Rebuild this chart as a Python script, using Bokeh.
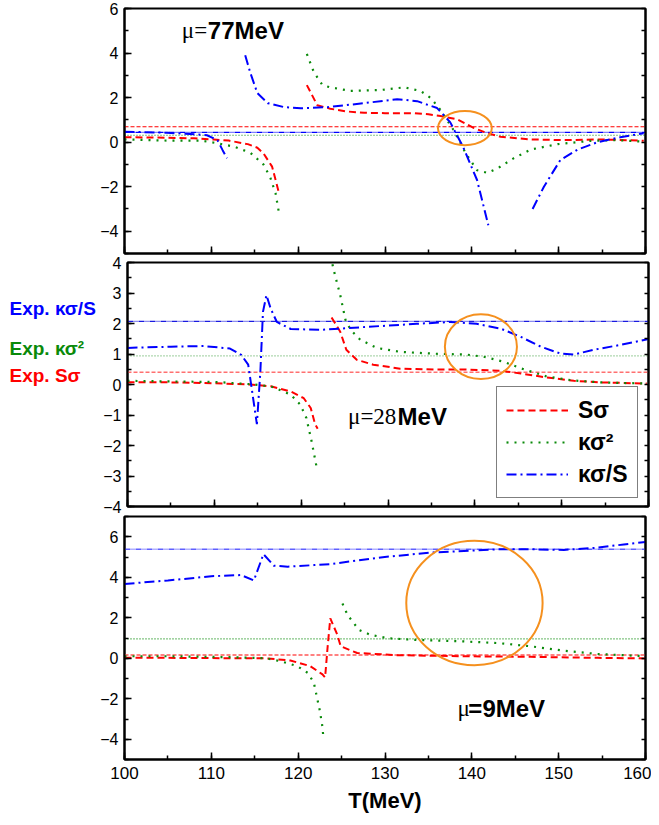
from bokeh.plotting import figure
from bokeh.layouts import column, row
from bokeh.models import (Range1d, LinearAxis, SingleIntervalTicker, Span, Label,
                          Legend, LegendItem, CustomJSTickFormatter)
from bokeh.embed import file_html
from bokeh.resources import INLINE

# ---------------- data ----------------
# Exp. values (mu = 77, 28, 9 MeV)
exp_S = [0.69, 0.40, 0.16]
exp_K = [0.31, 0.94, 0.96]
exp_KS = [0.44, 2.07, 5.38]

# mu = 77 MeV
T77_S1 = [100, 105, 108, 110.3, 112, 114.2, 115.3, 116, 117, 117.8]
S77_1 = [0.22, 0.2, 0.17, 0.12, 0.07, -0.09, -0.25, -0.5, -1.1, -2.3]
T77_S2 = [121, 122.2, 123.7, 125.5, 127.6, 130, 133.3, 135, 136.4, 138.3, 140.2, 141.8,
          143.3, 146.8, 150.6, 154.5, 157, 159.8]
S77_2 = [2.56, 1.66, 1.5, 1.38, 1.32, 1.3, 1.3, 1.25, 1.17, 1.03, 0.64, 0.4,
         0.24, 0.12, 0.09, 0.12, 0.1, 0.06]
T77_K1 = [100, 105, 108.8, 110.7, 112.6, 114.5, 116, 116.8, 117.4, 117.8]
K77_1 = [0.12, 0.07, 0.07, -0.05, -0.2, -0.48, -1.0, -1.6, -2.3, -3.2]
T77_K2 = [121, 121.8, 122.8, 123.7, 126, 129.5, 132.2, 134.1, 135.3, 136.4, 137.9, 139.3,
          140.6, 141.8, 143, 144.8, 146.8, 149.9, 153.7, 156.9, 159.8]
K77_2 = [3.96, 3.15, 2.56, 2.46, 2.3, 2.34, 2.46, 2.3, 1.97, 1.44, 0.54, -0.5,
         -1.26, -1.38, -1.17, -0.73, -0.33, -0.09, 0.06, 0.09, 0.02]
T77_KS1 = [100, 104.9, 107, 109.5, 110.7, 111.3, 111.8]
KS77_1 = [0.47, 0.42, 0.38, 0.31, 0.09, -0.36, -0.72]
T77_KS2 = [113.9, 114.5, 115.3, 116.5, 118.4, 120.3, 123.4, 127.6, 131.4, 133.7, 136,
           137.5, 139, 140.6, 141.9]
KS77_2 = [3.9, 3.1, 2.2, 1.75, 1.57, 1.52, 1.57, 1.75, 1.93, 1.84, 1.53,
          0.9, -0.22, -1.7, -3.73]
T77_KS3 = [147, 148.3, 150.2, 152.2, 154.5, 157.1, 159.8]
KS77_3 = [-3.0, -2.0, -0.8, -0.33, 0.0, 0.22, 0.4]

# mu = 28 MeV
T28_S1 = [100, 105, 108.8, 114.2, 116.5, 118.8, 120.3, 121.1, 121.6, 121.9]
S28_1 = [0.07, 0.07, 0.05, 0.0, -0.06, -0.23, -0.45, -0.77, -1.3, -1.45]
T28_S2 = [123.5, 124.5, 125.2, 126.4, 128.3, 131.4, 135.3, 139.1, 143, 145.3, 148.3,
          151.4, 154.5, 159.8]
S28_2 = [2.2, 1.73, 1.14, 0.81, 0.65, 0.52, 0.49, 0.49, 0.45, 0.36, 0.23,
         0.12, 0.07, 0.03]
T28_K1 = [100, 105, 110.3, 114.2, 116.5, 118.8, 119.9, 120.6, 121.2, 121.8]
K28_1 = [0.12, 0.1, 0.08, 0.01, -0.06, -0.33, -0.66, -1.1, -1.86, -2.74]
T28_K2 = [123.6, 123.9, 124.5, 125.1, 125.7, 126.8, 128.7, 131.4, 135.3, 139.1, 141,
          143.3, 145.3, 148.3, 151.4, 154.5, 159.8]
K28_2 = [3.94, 3.58, 2.93, 2.12, 1.79, 1.47, 1.2, 1.07, 1.01, 0.98, 0.91,
         0.75, 0.53, 0.26, 0.13, 0.07, 0.03]
T28_KS = [100, 105, 108.8, 111.8, 113.1, 113.9, 114.3, 114.9, 115.3, 115.6, 116, 116.5,
          117.2, 118.8, 122.2, 127.6, 133.3, 137.2, 140.2, 143, 145.3, 147.6, 149.9,
          151.4, 153.7, 156.8, 160]
KS28 = [1.2, 1.24, 1.26, 1.18, 0.97, 0.65, -0.12, -1.3, 0.42, 2.38, 2.93, 2.48,
        2.05, 1.82, 1.79, 1.89, 1.99, 2.05, 1.99, 1.83, 1.56, 1.24, 1.01,
        0.98, 1.14, 1.3, 1.49]

# mu = 9 MeV
T9_S = [100, 105, 112.6, 116.3, 119.1, 121.4, 122.8, 123.1, 123.4, 123.7, 124.5, 124.9,
        126.8, 131.4, 139.1, 146.8, 154.5, 160]
S9 = [0.02, 0.02, 0.0, 0.0, -0.11, -0.39, -0.8, -0.95, 0.6, 1.97, 1.17, 0.59,
      0.26, 0.15, 0.1, 0.07, 0.02, -0.01]
T9_K1 = [100, 105, 112.6, 116.3, 118, 119.9, 121.1, 121.8, 122.2, 122.5, 122.8, 122.9]
K9_1 = [0.1, 0.1, 0.05, 0.0, -0.15, -0.39, -0.72, -1.2, -2.0, -2.6, -3.4, -3.9]
T9_K2 = [125.1, 125.7, 127, 128.3, 130.3, 133.3, 139.1, 143, 146.8, 150.6, 154.5, 160]
K9_2 = [2.7, 2.13, 1.4, 1.16, 0.99, 0.91, 0.83, 0.75, 0.59, 0.37, 0.21, 0.1]
T9_KS = [100, 105, 110, 113.4, 114.9, 116, 117.2, 118.8, 121.8, 123.7, 129.5, 135.3,
         139.1, 143, 146.8, 150.6, 154.5, 157.5, 160]
KS9 = [3.67, 3.84, 4.05, 4.11, 3.84, 5.14, 4.57, 4.52, 4.6, 4.65, 4.98, 5.22,
       5.3, 5.38, 5.38, 5.35, 5.46, 5.62, 5.74]

# highlighted regions (ellipses): centre T, centre value, width (T), height (value)
ell_T = [139.2, 140.7, 140.3]
ell_V = [0.63, 1.24, 2.73]
ell_W = [6.2, 8.3, 15.7]
ell_H = [1.53, 2.12, 6.15]

# ---------------- styling ----------------
RED = "#FF0000"
GREEN = "#0A8A0A"
BLUE = "#0000FF"
ORANGE = "#F5901E"
SANS = "Liberation Sans"
SERIF = "Liberation Serif"
BLANK = CustomJSTickFormatter(code="return ''")

xr = Range1d(100, 160)


def make_fig(y0, y1, interval, frame_h, bt, bb, bl, show_x):
    p = figure(frame_width=521, frame_height=frame_h, x_range=xr,
               y_range=Range1d(y0, y1), output_backend="svg", toolbar_location=None,
               min_border_left=bl, min_border_right=6, min_border_top=bt,
               min_border_bottom=bb)
    p.grid.visible = False
    p.outline_line_color = "black"
    p.outline_line_width = 2
    p.outline_line_alpha = 1
    ax = p.xaxis[0]
    ax.ticker = SingleIntervalTicker(interval=10, num_minor_ticks=2)
    ay = p.yaxis[0]
    ay.ticker = SingleIntervalTicker(interval=interval, num_minor_ticks=2)
    for a in (ax, ay):
        a.axis_line_width = 2
        a.axis_line_color = "black"
        a.major_tick_in = 7
        a.major_tick_out = 0
        a.minor_tick_in = 4
        a.minor_tick_out = 0
        a.major_tick_line_width = 1.5
        a.minor_tick_line_width = 1.5
        a.major_tick_line_color = "black"
        a.minor_tick_line_color = "black"
        a.major_label_text_font = SANS
        a.major_label_text_color = "black"
    ay.major_label_text_font_size = "16px"
    ay.major_label_standoff = 6
    if show_x:
        ax.major_label_text_font_size = "17px"
        ax.major_label_standoff = 7
    else:
        ax.formatter = BLANK
        ax.major_label_text_font_size = "1px"
        ax.major_label_standoff = 0
    ry = LinearAxis(ticker=SingleIntervalTicker(interval=interval / 2, num_minor_ticks=0),
                    formatter=BLANK, major_label_text_font_size="1px",
                    major_label_standoff=0,
                    major_tick_in=4, major_tick_out=0, minor_tick_in=0, minor_tick_out=0,
                    axis_line_width=2, major_tick_line_width=1.5)
    p.add_layout(ry, "right")
    return p


def exp_lines(p, i, colS, colK, colKS, wS, wK, wKS):
    p.add_layout(Span(location=exp_S[i], dimension="width", line_color=colS,
                      line_width=wS, line_dash="4 2", level="underlay"))
    p.add_layout(Span(location=exp_K[i], dimension="width", line_color=colK,
                      line_width=wK, line_dash="1 2", level="underlay"))
    p.add_layout(Span(location=exp_KS[i], dimension="width", line_color=colKS,
                      line_width=wKS, line_dash="6 1 1 1 1 1", level="underlay"))


def curve(p, x, y, kind):
    if kind == "S":
        return p.line(x, y, line_color=RED, line_width=2, line_dash="7 4")
    elif kind == "K":
        return p.line(x, y, line_color=GREEN, line_width=2.2, line_dash="2 6")
    return p.line(x, y, line_color=BLUE, line_width=2, line_dash="10 4 2 4")


def ellipse(p, i):
    p.ellipse(x=[ell_T[i]], y=[ell_V[i]], width=[ell_W[i]], height=[ell_H[i]],
              fill_alpha=0, line_color=ORANGE, line_width=2)


def mu_label(p, x1, x2, y, part1, part2):
    p.add_layout(Label(x=x1, y=y, text=part1, text_font=SERIF, text_font_size="23px",
                       text_baseline="middle", text_color="black"))
    p.add_layout(Label(x=x2, y=y, text=part2, text_font=SANS, text_font_size="24px",
                       text_font_style="bold", text_baseline="middle", text_color="black"))


# ---------------- panel 1: mu = 77 MeV ----------------
p1 = make_fig(-5, 6, 2, 245, 8, 2, 124, False)
exp_lines(p1, 0, RED, GREEN, BLUE, 1.2, 1.2, 1.2)
curve(p1, T77_S1, S77_1, "S")
curve(p1, T77_S2, S77_2, "S")
curve(p1, T77_K1, K77_1, "K")
curve(p1, T77_K2, K77_2, "K")
curve(p1, T77_KS1, KS77_1, "KS")
curve(p1, T77_KS2, KS77_2, "KS")
curve(p1, T77_KS3, KS77_3, "KS")
ellipse(p1, 0)
mu_label(p1, 106.6, 109.6, 5.0, "\u03bc=", "77MeV")

# ---------------- panel 2: mu = 28 MeV ----------------
p2 = make_fig(-4, 4, 1, 244, 7, 9, 24, False)
exp_lines(p2, 1, "#FF7070", "#60B060", "#1A1AE0", 1.5, 1.4, 1.3)
r_s = curve(p2, T28_S1, S28_1, "S")
curve(p2, T28_S2, S28_2, "S")
r_k = curve(p2, T28_K1, K28_1, "K")
curve(p2, T28_K2, K28_2, "K")
r_ks = curve(p2, T28_KS, KS28, "KS")
ellipse(p2, 1)
mu_label(p2, 125.4, 131.1, -1.04, "\u03bc=28", "MeV")

leg = Legend(items=[LegendItem(label="S\u03c3", renderers=[r_s]),
                    LegendItem(label="\u03ba\u03c3\u00b2", renderers=[r_k]),
                    LegendItem(label="\u03ba\u03c3/S", renderers=[r_ks])],
             location=(369, 8), border_line_color="black", border_line_width=1.5,
             background_fill_color="white", background_fill_alpha=1,
             label_text_font=SANS, label_text_font_style="bold",
             label_text_color="black",
             label_text_font_size="23px", glyph_width=62, glyph_height=28,
             label_height=28, spacing=4, padding=9, margin=0, label_standoff=10)
p2.add_layout(leg)

# left-margin labels for the experimental lines
lab = figure(frame_width=100, frame_height=244, x_range=Range1d(0, 1),
             y_range=Range1d(0, 1), output_backend="svg", toolbar_location=None,
             min_border_left=0, min_border_right=0, min_border_top=7,
             min_border_bottom=9)
lab.axis.visible = False
lab.grid.visible = False
lab.outline_line_color = None
for txt, col, yy in [("Exp. \u03ba\u03c3/S", BLUE, 198),
                     ("Exp. \u03ba\u03c3\u00b2", GREEN, 158),
                     ("Exp. S\u03c3", RED, 131)]:
    lab.add_layout(Label(x=9, y=yy, x_units="screen", y_units="screen", text=txt,
                         text_font=SANS, text_font_style="bold", text_font_size="19px",
                         text_color=col, text_baseline="middle"))

# ---------------- panel 3: mu = 9 MeV ----------------
p3 = make_fig(-5, 7, 2, 243, 1, 58, 124, True)
exp_lines(p3, 2, "#FF8080", GREEN, "#6060FF", 2, 1.2, 1.5)
curve(p3, T9_S, S9, "S")
curve(p3, T9_K1, K9_1, "K")
curve(p3, T9_K2, K9_2, "K")
curve(p3, T9_KS, KS9, "KS")
ellipse(p3, 2)
mu_label(p3, 138.36, 139.6, -2.49, "\u03bc", "=9MeV")
p3.xaxis.axis_label = "T(MeV)"
p3.xaxis.axis_label_text_font = SANS
p3.xaxis.axis_label_text_font_style = "bold"
p3.xaxis.axis_label_text_font_size = "22px"
p3.xaxis.axis_label_standoff = 6
p3.xaxis.axis_label_text_color = "black"

layout = column(p1, row(lab, p2, spacing=0), p3, spacing=0)
open("out.html", "w").write(file_html(layout, INLINE))
